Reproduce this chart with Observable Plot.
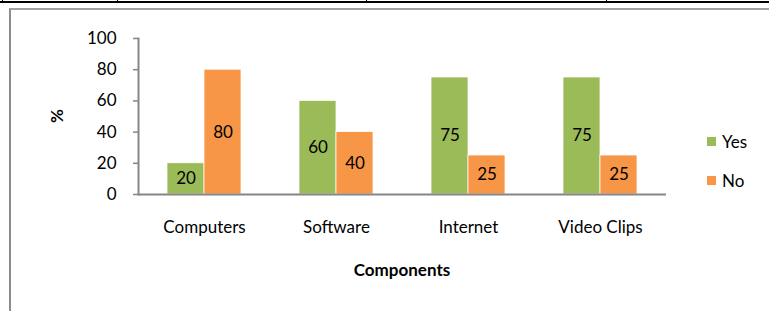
<!DOCTYPE html>
<html>
<head>
<meta charset="utf-8">
<script src="https://cdn.jsdelivr.net/npm/d3@7"></script>
<script src="https://cdn.jsdelivr.net/npm/@observablehq/plot@0.6"></script>
<style>
  html, body { margin: 0; padding: 0; background: #fff; }
  #wrap { position: relative; width: 769px; height: 311px; overflow: hidden; font-family: Lato, "Open Sans", sans-serif; }
  #topline { position: absolute; left: 0; top: 1px; width: 769px; height: 2px; background: #000; }
  .sep { position: absolute; top: 0; width: 1px; height: 3px; background: #000; }
  #frame { position: absolute; left: 9px; top: 8px; width: 800px; height: 400px; border-left: 2px solid #8c8c8c; border-top: 2px solid #a0a0a0; box-sizing: border-box; }
  #chart { position: absolute; left: 0; top: 0; }
  #legend { position: absolute; left: 707px; top: 131px; font-size: 17px; color: #000; }
  .item { position: absolute; left: 0; white-space: nowrap; display: flex; align-items: center; }
  .sw { width: 9px; height: 9px; margin-right: 6px; }
</style>
</head>
<body>
<div id="wrap">
  <div id="topline"></div>
  <div class="sep" style="left:2px;"></div>
  <div class="sep" style="left:117px;"></div>
  <div class="sep" style="left:366px;"></div>
  <div class="sep" style="left:606px;"></div>
  <div id="frame"></div>
  <div id="chart"></div>
  <div id="legend"></div>
</div>
<script>
const categories = ["Computers", "Software", "Internet", "Video Clips"];
const seriesNames = ["Yes", "No"];
const yesValues = [20, 60, 75, 75];
const noValues = [80, 40, 25, 25];
const yTicks = [0, 20, 40, 60, 80, 100];
const colors = ["#9BBB59", "#F79646"];

const data = [];
categories.forEach((c, i) => {
  data.push({category: c, series: "Yes", value: yesValues[i]});
  data.push({category: c, series: "No", value: noValues[i]});
});

const font = "Lato, 'Open Sans', sans-serif";

const chart = Plot.plot({
  width: 769,
  height: 311,
  marginLeft: 136,
  marginRight: 102,
  marginTop: 38,
  marginBottom: 117,
  style: {fontFamily: font, fontSize: "17px", color: "#000", background: "transparent", overflow: "visible"},
  fx: {domain: categories, padding: 0, label: null},
  x: {domain: seriesNames, paddingInner: 0, paddingOuter: 0.773, axis: null},
  y: {domain: [0, 100], ticks: yTicks, label: null},
  color: {domain: seriesNames, range: colors},
  marks: [
    Plot.axisY({ticks: yTicks, tickSize: 5, tickPadding: 17, stroke: "#868686", strokeWidth: 1.5, fill: "#000", fontSize: 17, label: null}),
    Plot.axisFx({anchor: "bottom", tickSize: 0, tickPadding: 26, fontSize: 17, fill: "#000", label: null}),
    Plot.barY(data, {fx: "category", x: "series", y: "value", fill: "series", stroke: "#fff", strokeWidth: 0.75}),
    Plot.text(data, {fx: "category", x: "series", y: d => d.value / 2, text: d => String(d.value), fill: "#000", fontSize: 17}),
    Plot.ruleY([0], {stroke: "#868686", strokeWidth: 2}),
    Plot.frame({anchor: "left", stroke: "#868686", strokeWidth: 2, facetAnchor: "left"})
  ]
});

const svg = d3.select(chart);
// axis titles
svg.append("text")
  .attr("x", 402).attr("y", 276)
  .attr("text-anchor", "middle")
  .attr("font-family", font).attr("font-size", 17).attr("font-weight", "bold")
  .text("Components");
svg.append("text")
  .attr("transform", "translate(63,116) rotate(-90)")
  .attr("text-anchor", "middle")
  .attr("font-family", font).attr("font-size", 17).attr("font-weight", "bold")
  .text("%");

document.getElementById("chart").appendChild(chart);

const legend = document.getElementById("legend");
seriesNames.forEach((s, i) => {
  const item = document.createElement("div");
  item.className = "item";
  item.style.top = (i * 39) + "px";
  const sw = document.createElement("div");
  sw.className = "sw";
  sw.style.background = colors[i];
  item.appendChild(sw);
  const t = document.createElement("span");
  t.textContent = s;
  item.appendChild(t);
  legend.appendChild(item);
});
</script>
</body>
</html>
